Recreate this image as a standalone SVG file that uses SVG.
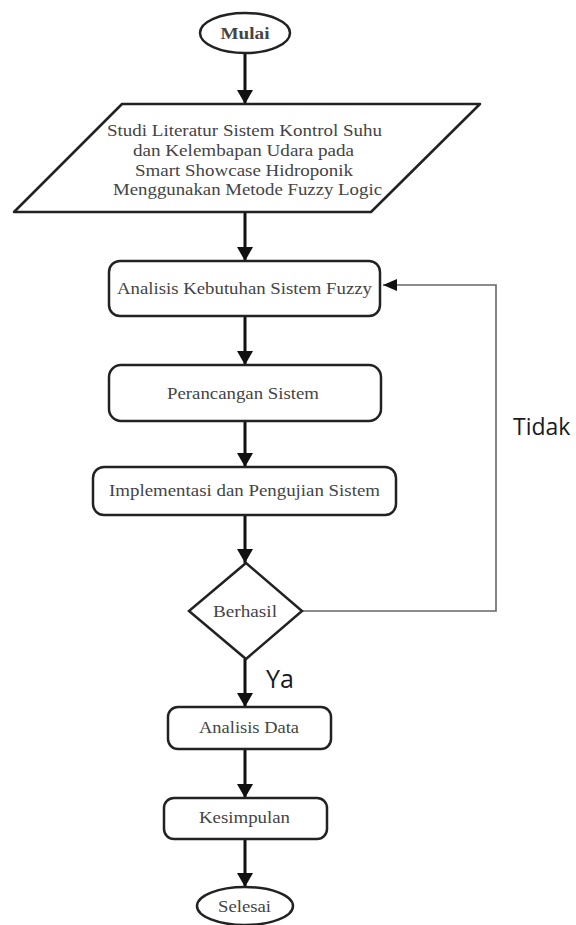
<svg xmlns="http://www.w3.org/2000/svg" width="576" height="925" viewBox="0 0 576 925">
<defs>
<style>
.shape{fill:#fff;stroke:#222;stroke-width:2.5}
.lbl{font-family:"Liberation Serif","Times New Roman",serif;font-size:17px;fill:#444;text-anchor:middle}
.edge{stroke:#111;stroke-width:3;fill:none}
.fb{stroke:#666;stroke-width:1.6;fill:none}
.note{font-family:"Open Sans","Noto Sans",sans-serif;fill:#1a1a22}
</style>
<marker id="ah" viewBox="0 0 14 16" refX="14" refY="8" markerWidth="14" markerHeight="16" markerUnits="userSpaceOnUse" orient="auto">
<path d="M0,0 L14,8 L0,16 z" fill="#111"/>
</marker>
<marker id="ah2" viewBox="0 0 14 12" refX="14" refY="6" markerWidth="14" markerHeight="12" markerUnits="userSpaceOnUse" orient="auto">
<path d="M0,0 L14,6 L0,12 z" fill="#111"/>
</marker>
</defs>
<rect width="576" height="925" fill="#fff"/>
<g id="connectors">
<line class="edge" x1="245" y1="53" x2="245" y2="104" marker-end="url(#ah)"/>
<line class="edge" x1="245" y1="213" x2="245" y2="261" marker-end="url(#ah)"/>
<line class="edge" x1="245" y1="316" x2="245" y2="365" marker-end="url(#ah)"/>
<line class="edge" x1="245" y1="421" x2="245" y2="467" marker-end="url(#ah)"/>
<line class="edge" x1="245" y1="515" x2="245" y2="563" marker-end="url(#ah)"/>
<line class="edge" x1="245" y1="659" x2="245" y2="707" marker-end="url(#ah)"/>
<line class="edge" x1="245" y1="749" x2="245" y2="798" marker-end="url(#ah)"/>
<line class="edge" x1="245" y1="839" x2="245" y2="887" marker-end="url(#ah)"/>
<polyline class="fb" points="302,611 496,611 496,285 383,285" marker-end="url(#ah2)"/>
<text class="note" x="266" y="688" font-size="25">Ya</text>
<text class="note" x="513" y="435" font-size="23">Tidak</text>
</g>
<g id="mulai">
<ellipse class="shape" cx="245" cy="33" rx="45" ry="20"/>
<text class="lbl" x="245" y="38.5" font-weight="bold" fill="#333" textLength="49" lengthAdjust="spacingAndGlyphs">Mulai</text>
</g>
<g id="studi">
<path class="shape" d="M122,104 L480,104 L371,212 L14,212 Z" stroke-linejoin="round"/>
<text class="lbl" x="244.5" y="135.5" textLength="275" lengthAdjust="spacingAndGlyphs">Studi Literatur Sistem Kontrol Suhu</text>
<text class="lbl" x="243.5" y="155.5" textLength="221" lengthAdjust="spacingAndGlyphs">dan Kelembapan Udara pada</text>
<text class="lbl" x="244" y="175.5" textLength="218" lengthAdjust="spacingAndGlyphs">Smart Showcase Hidroponik</text>
<text class="lbl" x="247.5" y="194.5" textLength="269" lengthAdjust="spacingAndGlyphs">Menggunakan Metode Fuzzy Logic</text>
</g>
<g id="analisis-kebutuhan">
<rect class="shape" x="109" y="261" width="271" height="55" rx="11"/>
<text class="lbl" x="244.5" y="293.5" textLength="255" lengthAdjust="spacingAndGlyphs">Analisis Kebutuhan Sistem Fuzzy</text>
</g>
<g id="perancangan">
<rect class="shape" x="109" y="365" width="272" height="56" rx="12"/>
<text class="lbl" x="243" y="398.5" textLength="152" lengthAdjust="spacingAndGlyphs">Perancangan Sistem</text>
</g>
<g id="implementasi">
<rect class="shape" x="93" y="467" width="303" height="48" rx="11"/>
<text class="lbl" x="244.5" y="495.5" textLength="271" lengthAdjust="spacingAndGlyphs">Implementasi dan Pengujian Sistem</text>
</g>
<g id="berhasil">
<polygon class="shape" points="246,563 302,611 246,659 189,611"/>
<text class="lbl" x="245" y="616.5" textLength="64" lengthAdjust="spacingAndGlyphs">Berhasil</text>
</g>
<g id="analisis-data">
<rect class="shape" x="168" y="707" width="163" height="42" rx="10"/>
<text class="lbl" x="249" y="732.5" textLength="100" lengthAdjust="spacingAndGlyphs">Analisis Data</text>
</g>
<g id="kesimpulan">
<rect class="shape" x="164" y="798" width="163" height="41" rx="10"/>
<text class="lbl" x="244.5" y="822.5" textLength="91" lengthAdjust="spacingAndGlyphs">Kesimpulan</text>
</g>
<g id="selesai">
<ellipse class="shape" cx="245" cy="906" rx="48" ry="19"/>
<text class="lbl" x="244.5" y="911.5" textLength="53" lengthAdjust="spacingAndGlyphs">Selesai</text>
</g>
</svg>
